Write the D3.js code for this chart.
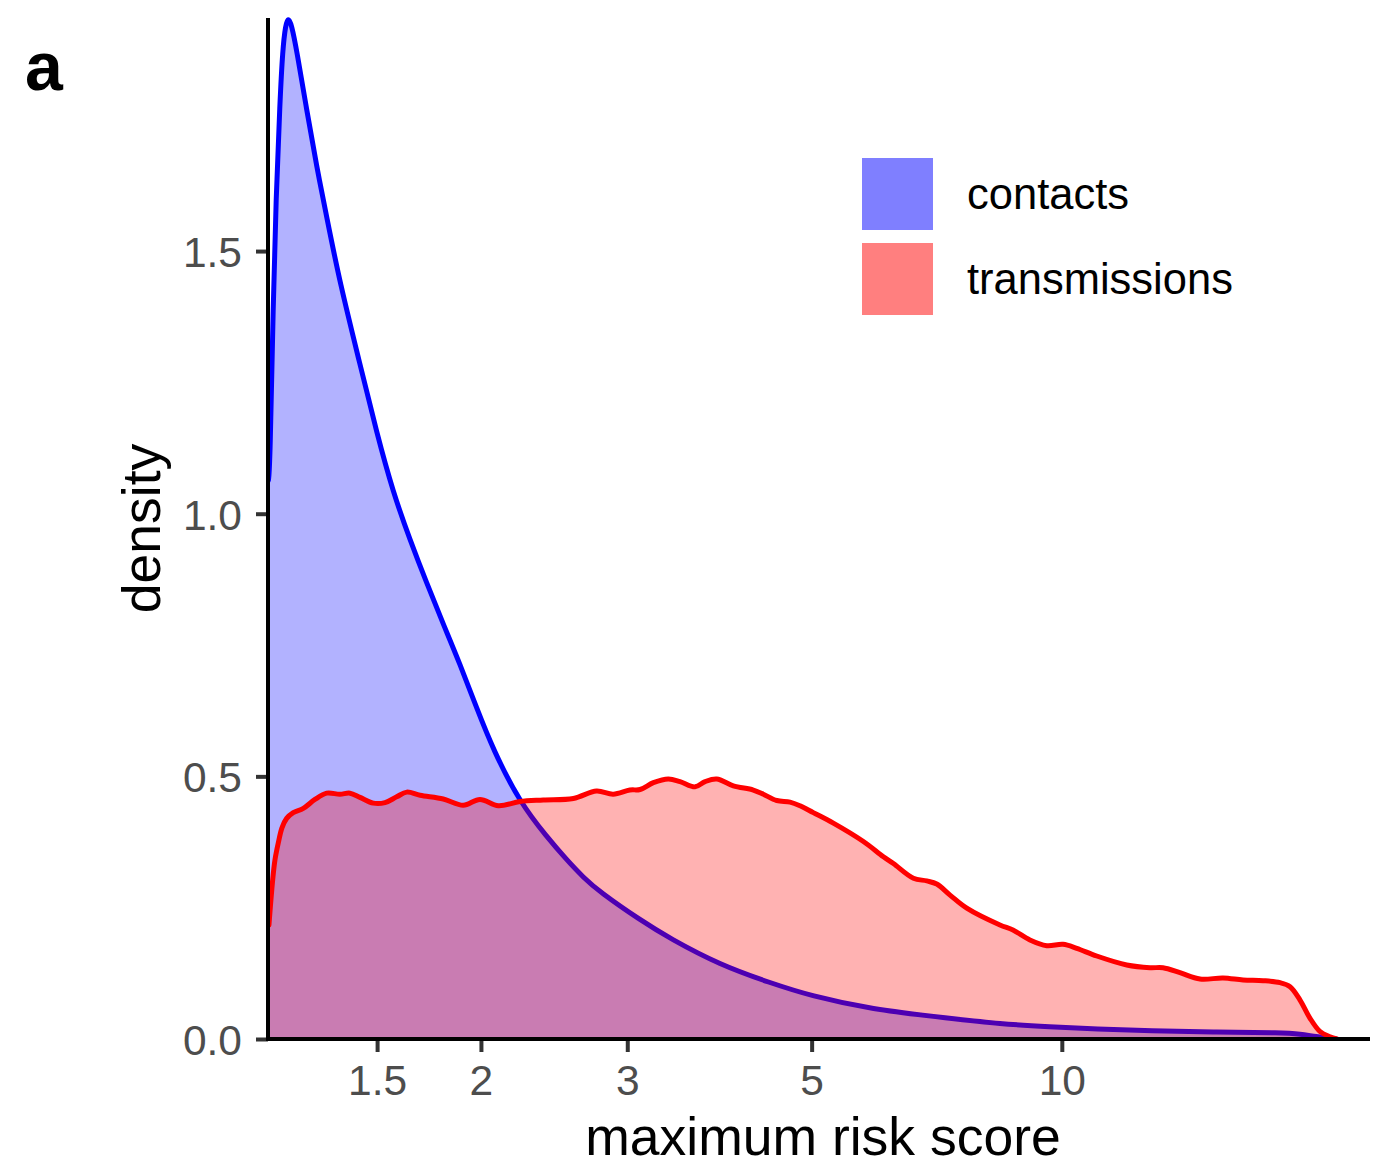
<!DOCTYPE html>
<html>
<head>
<meta charset="utf-8">
<script src="https://cdn.jsdelivr.net/npm/d3@7"></script>
<style>
  html, body { margin: 0; padding: 0; background: #fff; }
  svg { display: block; font-family: "Liberation Sans", Arial, Helvetica, sans-serif; }
</style>
</head>
<body>
<svg id="chart" width="1373" height="1165"></svg>
<script>
// Kernel density of the maximum risk score (log-scaled x axis)
const contactsX = [1.110, 1.1147, 1.1250, 1.1335, 1.1462, 1.1547, 1.1637, 1.1727, 1.1831, 1.2004,
  1.2340, 1.2688, 1.3044, 1.3532, 1.4305, 1.4983, 1.5692, 1.6434, 1.7208,
  1.8018, 1.8871, 1.9764, 2.0700, 2.2284, 2.4000, 2.5367, 2.6561, 2.7807, 3.1085, 3.3777,
  3.8789, 4.4546, 4.9911, 5.8793, 7.3364, 8.4251, 9.6784, 11.015, 12.768, 15.366,
  18.458, 19.348, 20.264, 21.024, 21.376];
const contactsY = [1.064, 1.089, 1.407, 1.597, 1.788, 1.883, 1.930, 1.945, 1.932, 1.883,
  1.769, 1.661, 1.565, 1.439, 1.285, 1.154, 1.039, 0.950, 0.868,
  0.790, 0.714, 0.630, 0.550, 0.450, 0.385, 0.341, 0.3076, 0.2798, 0.2265, 0.1911,
  0.141, 0.107, 0.082, 0.057, 0.0394, 0.0286, 0.0234, 0.0190, 0.0158, 0.0128,
  0.0120, 0.0095, 0.0044, 0.0019, 0.0];

const transX = [1.1116, 1.1232, 1.1303, 1.1407, 1.1524, 1.1675, 1.1890, 1.2226, 1.2627, 1.3044,
  1.3532, 1.3914, 1.4305, 1.4843, 1.5332, 1.5836, 1.6284, 1.6896, 1.8018, 1.9044,
  1.9945, 2.0989, 2.2284, 2.3772, 2.5838, 2.7554, 2.8852, 3.0214, 3.1085, 3.2250,
  3.3617, 3.4725, 3.6198, 3.7214, 3.8436, 4.0244, 4.2537, 4.3733, 4.5389, 4.7092,
  4.8416, 5.0229, 5.3094, 5.7711, 6.0999, 6.2713, 6.6285, 6.8791, 7.0724, 7.3364,
  7.6849, 8.4251, 8.7340, 9.1545, 9.5904, 10.033, 10.422, 11.015, 11.970, 12.768,
  13.236, 13.874, 14.665, 15.632, 16.523, 17.465, 18.306, 18.820, 19.348, 19.892,
  20.458, 21.024, 21.435];
const transY = [0.217, 0.303, 0.341, 0.373, 0.402, 0.420, 0.431, 0.439, 0.456, 0.468,
  0.466, 0.468, 0.460, 0.449, 0.450, 0.461, 0.470, 0.464, 0.457, 0.445,
  0.456, 0.444, 0.452, 0.455, 0.458, 0.472, 0.466, 0.474, 0.475, 0.488,
  0.495, 0.490, 0.480, 0.490, 0.495, 0.482, 0.474, 0.466, 0.454, 0.451,
  0.444, 0.431, 0.411, 0.376, 0.347, 0.334, 0.306, 0.301, 0.295, 0.274,
  0.249, 0.217, 0.2075, 0.1885, 0.1776, 0.1803, 0.1727, 0.158, 0.1409, 0.1357,
  0.1357, 0.1262, 0.1142, 0.1161, 0.1123, 0.1110, 0.1072, 0.0996, 0.0742, 0.0394,
  0.0139, 0.0044, 0.0];

const xTicks = [1.5, 2, 3, 5, 10];
const xTickLabels = ["1.5", "2", "3", "5", "10"];
const yTicks = [0, 0.5, 1.0, 1.5];
const yTickLabels = ["0.0", "0.5", "1.0", "1.5"];
const xDomain = [1.1087, 23.487];
const yDomain = [0, 1.9437];

const groups = ["contacts", "transmissions"];
const groupColors = ["#0000FF", "#FF0000"];

const svg = d3.select("#chart");
const panel = { left: 268, right: 1370, top: 18, bottom: 1039 };

const x = d3.scaleLog().domain(xDomain).range([panel.left, panel.right]);
const y = d3.scaleLinear().domain(yDomain).range([panel.bottom, panel.top]);

// the smooth contacts curve uses a B-spline; the bumpier transmissions curve passes through its points
const series = [
  { name: groups[0], color: groupColors[0], curve: d3.curveBasis,
    pts: contactsX.map((v, i) => [v, contactsY[i]]) },
  { name: groups[1], color: groupColors[1], curve: d3.curveCatmullRom.alpha(0.5),
    pts: transX.map((v, i) => [v, transY[i]]) }
];

svg.append("clipPath").attr("id", "panel-clip")
  .append("rect")
  .attr("x", panel.left).attr("y", panel.top - 6)
  .attr("width", panel.right - panel.left).attr("height", panel.bottom - panel.top + 6);

const plot = svg.append("g").attr("clip-path", "url(#panel-clip)");

// each group: translucent fill, then its outline
series.forEach(s => {
  const area = d3.area()
    .x(d => x(d[0])).y0(y(0)).y1(d => y(d[1]))
    .curve(s.curve);
  const line = d3.line()
    .x(d => x(d[0])).y(d => y(d[1]))
    .curve(s.curve);
  plot.append("path").datum(s.pts)
    .attr("d", area)
    .attr("fill", s.color).attr("fill-opacity", 0.3);
  plot.append("path").datum(s.pts)
    .attr("d", line)
    .attr("fill", "none").attr("stroke", s.color)
    .attr("stroke-width", 5).attr("stroke-linejoin", "round").attr("stroke-linecap", "round");
});

// axes
const xAxis = d3.axisBottom(x)
  .tickValues(xTicks)
  .tickFormat((d, i) => xTickLabels[i])
  .tickSize(13).tickSizeOuter(0).tickPadding(13);
const yAxis = d3.axisLeft(y)
  .tickValues(yTicks)
  .tickFormat((d, i) => yTickLabels[i])
  .tickSize(12).tickSizeOuter(0).tickPadding(14);

const gx = svg.append("g").attr("transform", `translate(0,${panel.bottom})`).call(xAxis);
const gy = svg.append("g").attr("transform", `translate(${panel.left},0)`).call(yAxis);

[gx, gy].forEach(g => {
  g.select(".domain").remove();
  g.selectAll(".tick line").attr("stroke", "#333333").attr("stroke-width", 4);
  g.selectAll(".tick text")
    .attr("fill", "#4D4D4D")
    .attr("font-size", 42.5)
    .attr("font-family", "Liberation Sans, Arial, sans-serif");
});
gy.selectAll(".tick text").attr("dy", "0.36em");

// axis lines
svg.append("line")
  .attr("x1", panel.left).attr("x2", panel.left)
  .attr("y1", y.range()[1]).attr("y2", y.range()[0] + 2)
  .attr("stroke", "#000").attr("stroke-width", 4);
svg.append("line")
  .attr("x1", panel.left - 2).attr("x2", x.range()[1])
  .attr("y1", panel.bottom).attr("y2", panel.bottom)
  .attr("stroke", "#000").attr("stroke-width", 4);

// axis titles
svg.append("text")
  .attr("x", 823).attr("y", 1155)
  .attr("text-anchor", "middle")
  .attr("font-size", 53.5).attr("fill", "#000")
  .text("maximum risk score");
svg.append("text")
  .attr("transform", `translate(160,${(panel.top + panel.bottom) / 2}) rotate(-90)`)
  .attr("text-anchor", "middle")
  .attr("font-size", 53.5).attr("fill", "#000")
  .text("density");

// panel tag
svg.append("text")
  .attr("x", 25).attr("y", 90)
  .attr("font-size", 68).attr("font-weight", "bold").attr("fill", "#000")
  .text("a");

// legend
const legend = svg.append("g").attr("transform", "translate(862,158)");
groups.forEach((g, i) => {
  const row = legend.append("g").attr("transform", `translate(0,${i * 85})`);
  row.append("rect")
    .attr("width", 71).attr("height", 72)
    .attr("fill", groupColors[i]).attr("fill-opacity", 0.5);
  row.append("text")
    .attr("x", 105).attr("y", 36).attr("dy", "0.35em")
    .attr("font-size", 43.5).attr("fill", "#000")
    .text(g);
});
</script>
</body>
</html>
